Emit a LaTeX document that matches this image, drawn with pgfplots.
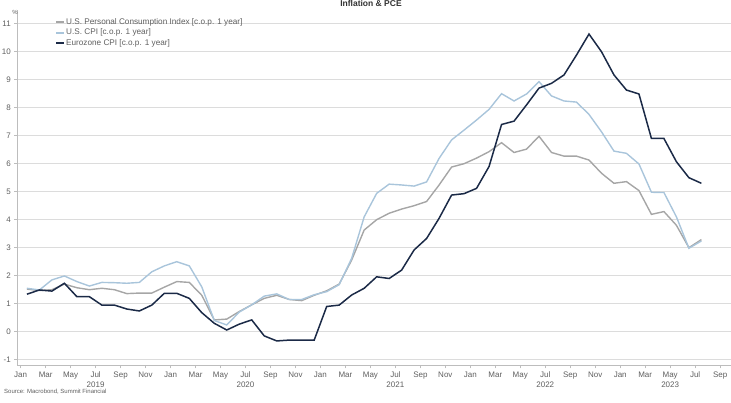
\documentclass[border=0pt]{standalone}
\usepackage{pgfplots}
\pgfplotsset{compat=1.18}
\usepackage{fontspec}
\setmainfont{Liberation Sans}
\definecolor{pcegray}{HTML}{A6A6A6}
\definecolor{cpiblue}{HTML}{A9C5DB}
\definecolor{eznavy}{HTML}{1B2A47}
\definecolor{gridgray}{HTML}{DCDCDC}
\definecolor{axisgray}{HTML}{BDBDBD}
\definecolor{labgray}{HTML}{5F5F5F}
\begin{document}
\begin{tikzpicture}[x=1pt,y=1pt]
\useasboundingbox (0,0) rectangle (731,403);
\begin{axis}[
  at={(17.3pt,37.7pt)}, anchor=south west,
  scale only axis, width=713.7pt, height=355.6pt,
  xmin=-0.27, xmax=56.87, ymin=-1.2, ymax=11.5,
  axis x line*=bottom, axis y line*=left,
  axis line style={axisgray, line width=0.6pt, -},
  xtick={0,2,...,56},
  xticklabels={Jan,Mar,May,{Jul\\2019},Sep,Nov,Jan,Mar,May,{Jul\\2020},Sep,Nov,Jan,Mar,May,{Jul\\2021},Sep,Nov,Jan,Mar,May,{Jul\\2022},Sep,Nov,Jan,Mar,{May\\2023},Jul,Sep},
  ytick={-1,0,...,11},
  ymajorgrids, grid style={gridgray, line width=0.7pt},
  tick align=outside, major tick length=3pt,
  tick style={axisgray, line width=0.5pt},
  xticklabel style={align=center, font=\fontsize{8}{10}\selectfont, text=labgray},
  yticklabel style={font=\fontsize{8}{10}\selectfont, text=labgray},
  /pgf/number format/assume math mode=true,
  legend style={at={(axis description cs:0.0528,0.979)}, anchor=north west,
    draw=none, fill=none, font=\fontsize{8.2}{10}\selectfont, text=labgray,
    row sep=0.6pt, inner sep=0pt, nodes={inner sep=1.2pt}},
  legend cell align=left,
  legend image code/.code={\draw[#1, line width=1.8pt] (0pt,0pt) -- (8pt,0pt);},
  clip=false,
]
\addplot[pcegray, line width=1.4pt] table[x=i, y=v] {
i v
0.5 1.52
1.5 1.47
2.5 1.50
3.5 1.70
4.5 1.57
5.5 1.50
6.5 1.55
7.5 1.50
8.5 1.36
9.5 1.38
10.5 1.38
11.5 1.59
12.5 1.79
13.5 1.76
14.5 1.30
15.5 0.42
16.5 0.45
17.5 0.72
18.5 0.96
19.5 1.19
20.5 1.30
21.5 1.15
22.5 1.11
23.5 1.30
24.5 1.46
25.5 1.70
26.5 2.56
27.5 3.63
28.5 4.00
29.5 4.23
30.5 4.38
31.5 4.50
32.5 4.65
33.5 5.24
34.5 5.88
35.5 6.00
36.5 6.20
37.5 6.43
38.5 6.75
39.5 6.40
40.5 6.52
41.5 6.98
42.5 6.40
43.5 6.27
44.5 6.27
45.5 6.13
46.5 5.66
47.5 5.30
48.5 5.36
49.5 5.04
50.5 4.19
51.5 4.29
52.5 3.80
53.5 3.00
54.5 3.29
};
\addlegendentry{U.S. Personal Consumption Index [c.o.p. 1 year]}
\addplot[cpiblue, line width=1.4pt] table[x=i, y=v] {
i v
0.5 1.55
1.5 1.49
2.5 1.85
3.5 1.99
4.5 1.79
5.5 1.63
6.5 1.76
7.5 1.75
8.5 1.73
9.5 1.76
10.5 2.14
11.5 2.35
12.5 2.50
13.5 2.35
14.5 1.60
15.5 0.40
16.5 0.24
17.5 0.70
18.5 0.96
19.5 1.27
20.5 1.35
21.5 1.15
22.5 1.15
23.5 1.32
24.5 1.43
25.5 1.68
26.5 2.62
27.5 4.10
28.5 4.94
29.5 5.27
30.5 5.24
31.5 5.20
32.5 5.35
33.5 6.19
34.5 6.85
35.5 7.20
36.5 7.56
37.5 7.94
38.5 8.50
39.5 8.24
40.5 8.49
41.5 8.93
42.5 8.42
43.5 8.24
44.5 8.20
45.5 7.76
46.5 7.14
47.5 6.45
48.5 6.37
49.5 5.99
50.5 4.98
51.5 4.97
52.5 4.10
53.5 2.98
54.5 3.24
};
\addlegendentry{U.S. CPI [c.o.p. 1 year]}
\addplot[eznavy, line width=1.5pt] table[x=i, y=v] {
i v
0.5 1.34
1.5 1.49
2.5 1.45
3.5 1.73
4.5 1.25
5.5 1.25
6.5 0.95
7.5 0.95
8.5 0.81
9.5 0.74
10.5 0.95
11.5 1.37
12.5 1.37
13.5 1.19
14.5 0.68
15.5 0.30
16.5 0.06
17.5 0.27
18.5 0.42
19.5 -0.15
20.5 -0.33
21.5 -0.30
22.5 -0.30
23.5 -0.30
24.5 0.90
25.5 0.95
26.5 1.31
27.5 1.55
28.5 1.96
29.5 1.90
30.5 2.20
31.5 2.92
32.5 3.33
33.5 4.05
34.5 4.88
35.5 4.93
36.5 5.12
37.5 5.90
38.5 7.40
39.5 7.52
40.5 8.10
41.5 8.70
42.5 8.87
43.5 9.17
44.5 9.88
45.5 10.63
46.5 10.00
47.5 9.17
48.5 8.63
49.5 8.49
50.5 6.90
51.5 6.90
52.5 6.07
53.5 5.50
54.5 5.30
};
\addlegendentry{Eurozone CPI [c.o.p. 1 year]}
\end{axis}
\node[anchor=base, font=\bfseries\fontsize{8.5}{10}\selectfont, text=black!80] at (371,396) {Inflation \& PCE};
\node[anchor=center, font=\fontsize{6}{7}\selectfont, text=labgray] at (15,391) {\%};
\node[anchor=west, font=\fontsize{6}{7}\selectfont, text=labgray, inner sep=0pt] at (4,11) {Source: Macrobond, Summit Financial};
\end{tikzpicture}
\end{document}
